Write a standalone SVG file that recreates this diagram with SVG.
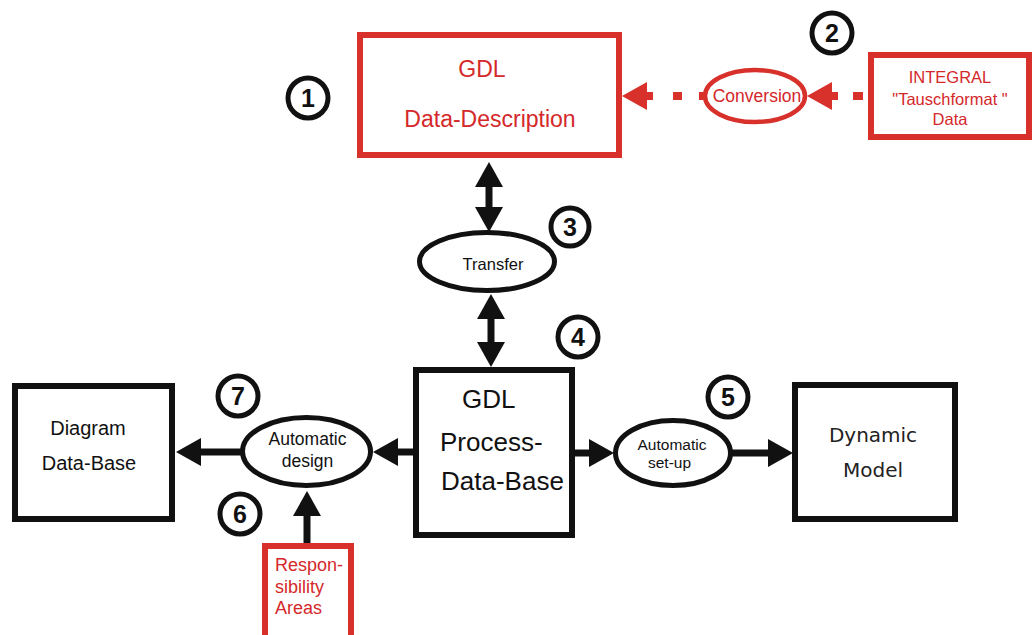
<svg xmlns="http://www.w3.org/2000/svg" width="1034" height="635" viewBox="0 0 1034 635">
<style>
.bx{fill:#fff;stroke:#111;stroke-width:6}
.rbx{fill:#fff;stroke:#d8302a;stroke-width:6}
.el{fill:#fff;stroke:#111;stroke-width:5}
.rel{fill:#fff;stroke:#d8302a;stroke-width:4.5}
.num{fill:#fff;stroke:#111;stroke-width:5}
.nt{font-family:"Liberation Sans",Arial,sans-serif;font-weight:bold;font-size:25px;fill:#111;text-anchor:middle}
.t{font-family:"Liberation Sans",Arial,sans-serif;fill:#111}
.rt{font-family:"Liberation Sans",Arial,sans-serif;fill:#d4282a}
.c{text-anchor:middle}
.ln{stroke:#111;stroke-width:7;fill:none}
.rln{stroke:#d8302a;stroke-width:8;fill:none}
</style>
<defs>
<marker id="ah" viewBox="0 0 25 28" refX="0" refY="14" markerWidth="25" markerHeight="28" markerUnits="userSpaceOnUse" orient="auto-start-reverse"><path d="M0,0 L25,14 L0,28 Z" fill="#111"/></marker>
<marker id="rah" viewBox="0 0 25 28" refX="0" refY="14" markerWidth="25" markerHeight="28" markerUnits="userSpaceOnUse" orient="auto"><path d="M0,0 L25,14 L0,28 Z" fill="#d8302a"/></marker>
</defs>
<rect width="1034" height="635" fill="#fff"/>
<g id="connectors">
<line class="ln" x1="489" y1="187" x2="489" y2="207" marker-start="url(#ah)" marker-end="url(#ah)"/>
<line class="ln" x1="491" y1="319" x2="491" y2="342" marker-start="url(#ah)" marker-end="url(#ah)"/>
<line class="ln" x1="241" y1="452" x2="201" y2="452" marker-end="url(#ah)"/>
<line class="ln" x1="414" y1="452" x2="398" y2="452" marker-end="url(#ah)"/>
<line class="ln" x1="307" y1="544" x2="307" y2="516" marker-end="url(#ah)"/>
<line class="ln" x1="574" y1="453" x2="589" y2="453" marker-end="url(#ah)"/>
<line class="ln" x1="732" y1="453" x2="768" y2="453" marker-end="url(#ah)"/>
<line class="rln" x1="706" y1="96" x2="647" y2="96" stroke-dasharray="7 17 9 20 6 100" marker-end="url(#rah)"/>
<line class="rln" x1="863" y1="96" x2="832" y2="96" stroke-dasharray="10 15 6 100" marker-end="url(#rah)"/>
</g>
<g id="node-gdl-description">
<rect class="rbx" x="360" y="35" width="259" height="120"/>
<text class="rt c" x="482" y="77" font-size="23">GDL</text>
<text class="rt c" x="490" y="127" font-size="23">Data-Description</text>
</g>
<g id="node-conversion">
<ellipse class="rel" cx="755" cy="96" rx="50" ry="26"/>
<text class="rt c" x="757" y="102" font-size="17.5">Conversion</text>
</g>
<g id="node-integral">
<rect class="rbx" x="871" y="55" width="158" height="82"/>
<text class="rt c" x="950" y="83" font-size="16.5">INTEGRAL</text>
<text class="rt c" x="950" y="105" font-size="16.5">"Tauschformat "</text>
<text class="rt c" x="950" y="125" font-size="16.5">Data</text>
</g>
<g id="node-transfer">
<ellipse class="el" cx="487" cy="261.5" rx="67.5" ry="29"/>
<text class="t c" x="493" y="270" font-size="16.5">Transfer</text>
</g>
<g id="node-process-db">
<rect class="bx" x="416" y="370" width="156" height="165"/>
<text class="t" x="462" y="408" font-size="26">GDL</text>
<text class="t" x="440" y="451" font-size="26">Process-</text>
<text class="t" x="441" y="490" font-size="26">Data-Base</text>
</g>
<g id="node-auto-design">
<ellipse class="el" cx="306.5" cy="451.5" rx="64" ry="34"/>
<text class="t c" x="307.5" y="445" font-size="17.5">Automatic</text>
<text class="t c" x="307.5" y="467" font-size="17.5">design</text>
</g>
<g id="node-diagram-db">
<rect class="bx" x="15" y="386" width="157" height="133"/>
<text class="t c" x="88" y="435" font-size="20">Diagram</text>
<text class="t c" x="89" y="470" font-size="20">Data-Base</text>
</g>
<g id="node-responsibility">
<rect class="rbx" x="265" y="546" width="86" height="100" stroke-width="5"/>
<text class="rt" x="275" y="571" font-size="18">Respon-</text>
<text class="rt" x="275" y="593" font-size="18">sibility</text>
<text class="rt" x="275" y="614" font-size="18">Areas</text>
</g>
<g id="node-auto-setup">
<ellipse class="el" cx="673" cy="453" rx="57.5" ry="32.5"/>
<text class="t c" x="672" y="450" font-size="15.5">Automatic</text>
<text class="t c" x="669.5" y="468" font-size="15.5">set-up</text>
</g>
<g id="node-dynamic-model">
<rect class="bx" x="795" y="385" width="160" height="134"/>
<text class="c" x="873" y="442" font-size="20" font-family="'DejaVu Sans',sans-serif" fill="#222">Dynamic</text>
<text class="c" x="873" y="477" font-size="20" font-family="'DejaVu Sans',sans-serif" fill="#222">Model</text>
</g>
<g id="num-1"><circle class="num" cx="308" cy="98" r="20"/><text class="nt" x="308" y="107">1</text></g>
<g id="num-2"><circle class="num" cx="832" cy="33" r="20"/><text class="nt" x="832" y="42">2</text></g>
<g id="num-3"><circle class="num" cx="570" cy="227" r="19"/><text class="nt" x="570" y="236">3</text></g>
<g id="num-4"><circle class="num" cx="578" cy="337" r="20"/><text class="nt" x="578" y="346">4</text></g>
<g id="num-5"><circle class="num" cx="728" cy="397" r="20"/><text class="nt" x="728" y="406">5</text></g>
<g id="num-6"><circle class="num" cx="240" cy="514" r="20"/><text class="nt" x="240" y="523">6</text></g>
<g id="num-7"><circle class="num" cx="238" cy="396" r="20"/><text class="nt" x="238" y="405">7</text></g>
</svg>
